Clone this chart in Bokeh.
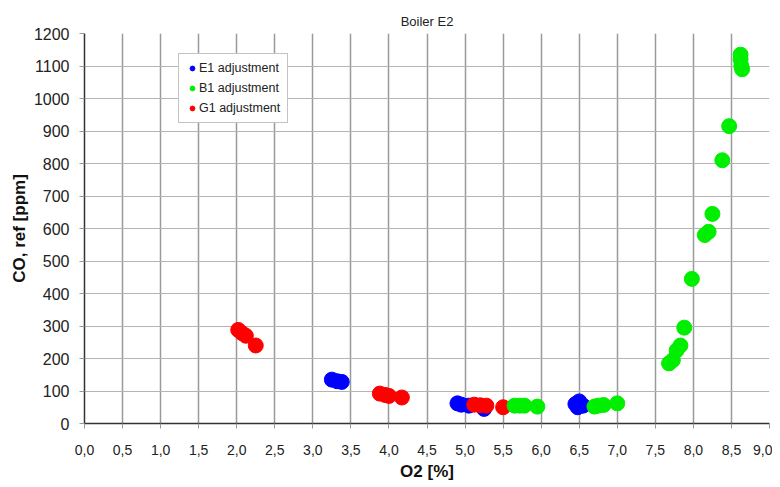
from bokeh.plotting import figure
from bokeh.models import FixedTicker, Legend, LegendItem
from bokeh.embed import file_html
from bokeh.resources import INLINE

# Data
e1_o2 = [3.25, 3.32, 3.38, 4.90, 4.95, 5.05, 5.25, 6.45, 6.48, 6.50, 6.55]
e1_co = [135, 130, 128, 62, 58, 55, 45, 60, 50, 68, 55]

g1_o2 = [2.02, 2.07, 2.12, 2.25, 3.88, 3.95, 4.00, 4.17, 5.12, 5.20, 5.28, 5.50]
g1_co = [288, 278, 270, 240, 92, 88, 85, 80, 58, 56, 55, 50]

b1_o2 = [5.65, 5.72, 5.78, 5.95, 6.70, 6.75, 6.82, 7.00, 7.68, 7.73, 7.78, 7.83,
         7.88, 7.98, 8.15, 8.20, 8.25, 8.38, 8.47, 8.62, 8.62, 8.63, 8.64]
b1_co = [55, 55, 55, 52, 52, 55, 57, 62, 185, 195, 225, 240,
         295, 445, 580, 590, 645, 810, 915, 1135, 1120, 1100, 1090]

x_ticks = [i * 0.5 for i in range(19)]
x_tick_labels = [f"{t:.1f}".replace(".", ",") for t in x_ticks]
y_ticks = list(range(0, 1201, 100))

FONT = "Liberation Sans"

p = figure(width=772, height=483, output_backend="svg", toolbar_location=None,
           x_range=(0, 9), y_range=(0, 1200),
           min_border_left=84, min_border_right=3, min_border_top=33,
           min_border_bottom=60, title="Boiler E2")
p.outline_line_color = None
p.title.align = "center"
p.title.text_font = FONT
p.title.text_font_size = "13px"
p.title.text_font_style = "normal"
p.title.text_color = "#222222"

p.xaxis.ticker = FixedTicker(ticks=x_ticks)
p.xaxis.major_label_overrides = {t: l for t, l in zip(x_ticks, x_tick_labels)}
p.yaxis.ticker = FixedTicker(ticks=y_ticks)
p.xaxis.axis_label = "O2 [%]"
p.yaxis.axis_label = "CO, ref [ppm]"
for ax in (p.xaxis[0], p.yaxis[0]):
    ax.axis_label_text_font = FONT
    ax.axis_label_text_font_size = "17px"
    ax.axis_label_text_font_style = "bold"
    ax.axis_label_text_color = "#111111"
    ax.major_label_text_font = FONT
    ax.major_label_text_color = "#222222"
    ax.axis_line_color = "#333333"
    ax.axis_line_width = 1.5
    ax.major_tick_line_color = "#999999"
    ax.major_tick_in = 0
    ax.major_tick_out = 5
    ax.minor_tick_line_color = None
p.xaxis.major_label_text_font_size = "14px"
p.yaxis.major_label_text_font_size = "16px"
p.xaxis.axis_label_standoff = 4
p.yaxis.axis_label_standoff = 2
p.xaxis.major_label_standoff = 16
p.yaxis.major_label_standoff = 10

p.xgrid.grid_line_color = "#999999"
p.xgrid.grid_line_width = 1.5
p.ygrid.grid_line_color = "#b4b4b4"
p.ygrid.grid_line_width = 1.2

r_e1 = p.scatter(e1_o2, e1_co, size=15, color="#0000ff")
r_g1 = p.scatter(g1_o2, g1_co, size=15, color="#ff0000")
r_b1 = p.scatter(b1_o2, b1_co, size=15, color="#00ee00")

legend = Legend(items=[
    LegendItem(label="E1 adjustment", renderers=[r_e1]),
    LegendItem(label="B1 adjustment", renderers=[r_b1]),
    LegendItem(label="G1 adjustment", renderers=[r_g1]),
], location=(94, 300))
legend.label_text_font = FONT
legend.label_text_font_size = "12.5px"
legend.label_text_color = "#222222"
legend.glyph_width = 12
legend.glyph_height = 12
legend.label_height = 14
legend.spacing = 6
legend.padding = 7
legend.margin = 0
legend.label_standoff = 1
legend.border_line_color = "#888888"
legend.border_line_width = 1
legend.background_fill_color = "white"
legend.background_fill_alpha = 1
p.add_layout(legend, "center")

open("out.html", "w").write(file_html(p, INLINE))
